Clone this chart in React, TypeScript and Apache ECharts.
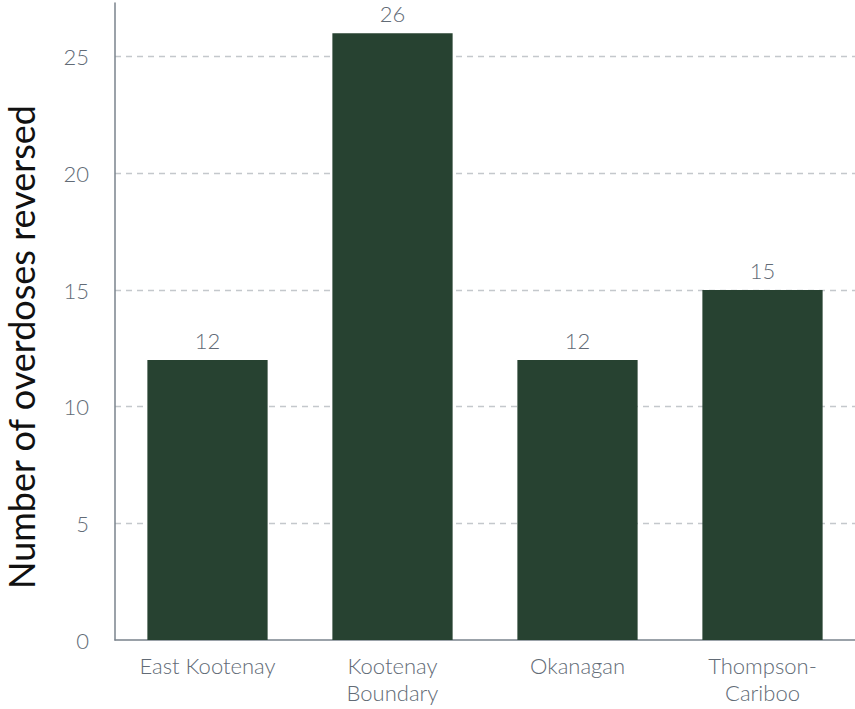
import React, { useEffect, useRef } from "react";
import * as echarts from "echarts";

const categories = ["East Kootenay", "Kootenay\nBoundary", "Okanagan", "Thompson-\nCariboo"];
const values = [12, 26, 12, 15];
const yTitle = "Number of overdoses reversed";

export default function App() {
  const ref = useRef<HTMLDivElement>(null);
  useEffect(() => {
    if (!ref.current) return;
    const chart = echarts.init(ref.current, null, { renderer: "svg" });
    const font = "Lato";
    const labelColor = "#626b76";
    chart.setOption({
      animation: false,
      grid: { left: 115, right: 0, top: 3, bottom: 69, containLabel: false },
      xAxis: {
        type: "category",
        data: categories,
        axisLine: { show: true, lineStyle: { color: "#7a838c", width: 1.5 } },
        axisTick: { show: false },
        axisLabel: {
          color: labelColor,
          fontFamily: font,
          fontWeight: 300,
          fontSize: 22,
          lineHeight: 27,
          margin: 12,
          interval: 0,
        },
      },
      yAxis: {
        type: "value",
        min: 0,
        max: 27.3,
        interval: 5,
        axisLine: { show: true, lineStyle: { color: "#7a838c", width: 1.5 } },
        axisTick: { show: false },
        axisLabel: {
          color: labelColor,
          fontFamily: font,
          fontWeight: 300,
          fontSize: 22,
          margin: 26,
          showMaxLabel: false,
        },
        splitLine: {
          show: true,
          showMinLine: false,
          showMaxLine: false,
          lineStyle: { color: "#c4c8cc", type: [6, 5], width: 1.3 },
        },
      },
      graphic: [
        {
          type: "text",
          x: 21,
          y: 347,
          rotation: Math.PI / 2,
          style: {
            text: yTitle,
            fill: "#111111",
            fontFamily: font,
            fontWeight: "normal",
            fontSize: 36,
            textAlign: "center",
            textVerticalAlign: "middle",
          },
        },
      ],
      series: [
        {
          type: "bar",
          data: values,
          barWidth: "65%",
          itemStyle: { color: "#274231" },
          label: {
            show: true,
            position: "top",
            distance: 9,
            color: labelColor,
            fontFamily: font,
            fontWeight: 300,
            fontSize: 22,
          },
        },
      ],
    });
    return () => chart.dispose();
  }, []);
  return (
    <div
      ref={ref}
      style={{ position: "fixed", left: 0, top: 0, width: 855, height: 709, background: "#fff" }}
    />
  );
}
